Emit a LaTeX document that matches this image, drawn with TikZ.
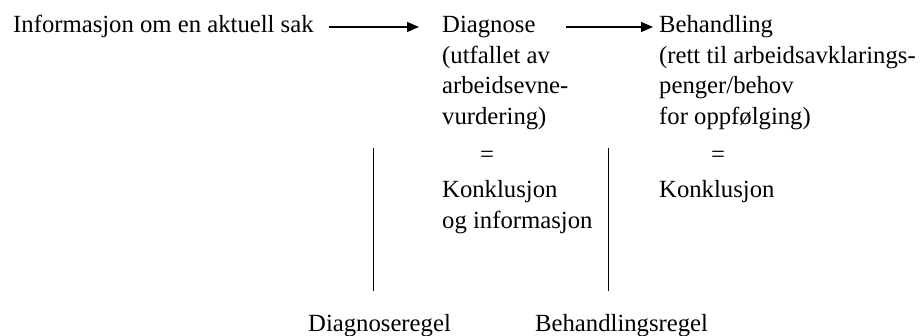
\documentclass[tikz,border=0pt]{standalone}
\usepackage{fontspec}
\setmainfont{Liberation Serif}
\usetikzlibrary{arrows.meta}
\begin{document}
\begin{tikzpicture}[x=1pt,y=-1pt,
  txt/.style={inner sep=0pt,anchor=base west,font=\fontsize{24.7}{30}\selectfont},
  ctr/.style={inner sep=0pt,anchor=base,font=\fontsize{24.7}{30}\selectfont},
  arr/.style={line width=1.3pt,-{Triangle[length=12pt,width=10pt]}},
  rule/.style={line width=1pt}]
\useasboundingbox (0,0) rectangle (922,336);
% first column
\node[txt] (info) at (13,33) {Informasjon om en aktuell sak};
% diagnose column
\node[txt] (diag) at (442,33) {Diagnose};
\node[txt] (d2) at (442,63.5) {(utfallet av};
\node[txt] (d3) at (442,94) {arbeidsevne-};
\node[txt] (d4) at (442,124.5) {vurdering)};
\node[ctr] (deq) at (487,162.5) {=};
\node[txt] (dk1) at (442,198) {Konklusjon};
\node[txt] (dk2) at (442,228.5) {og informasjon};
% behandling column
\node[txt] (beh) at (659,33) {Behandling};
\node[txt] (b2) at (659,63.5) {(rett til arbeidsavklarings-};
\node[txt] (b3) at (659,94) {penger/behov};
\node[txt] (b4) at (659,124.5) {for oppfølging)};
\node[ctr] (beq) at (718,162.5) {=};
\node[txt] (bk1) at (659,198) {Konklusjon};
% rules
\node[txt] (dr) at (308,332) {Diagnoseregel};
\node[txt] (br) at (535,332) {Behandlingsregel};
\coordinate (l1t) at (373,148);
\coordinate (l1b) at (373,291);
\coordinate (l2t) at (608,148);
\coordinate (l2b) at (608,291);
\draw[rule] (l1t) -- (l1b);
\draw[rule] (l2t) -- (l2b);
% arrows
\draw[arr] ([xshift=15pt,yshift=6pt]info.base east) -- ([xshift=-23pt,yshift=6pt]diag.base west);
\draw[arr] ([xshift=30pt,yshift=6pt]diag.base east) -- ([xshift=-6pt,yshift=6pt]beh.base west);
\end{tikzpicture}
\end{document}
